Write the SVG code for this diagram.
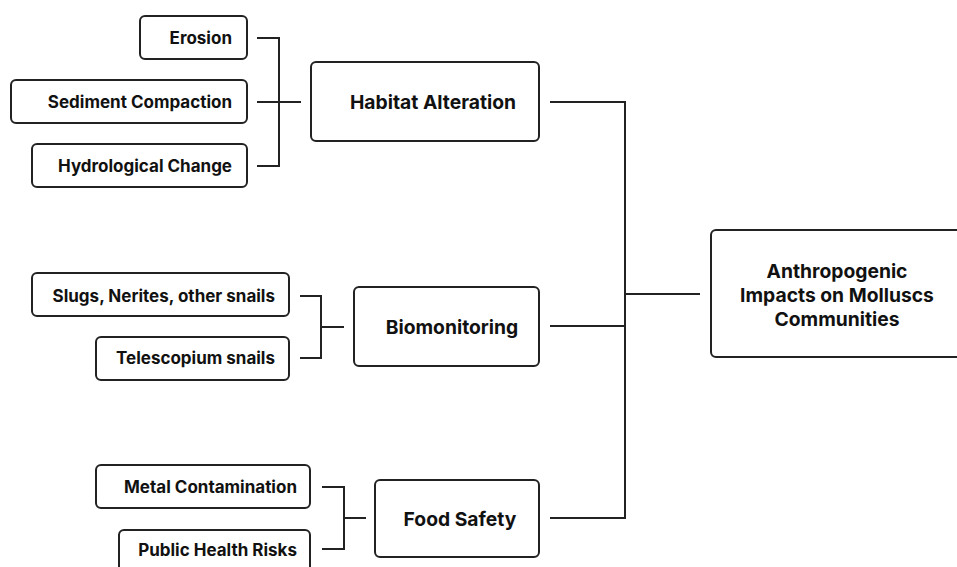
<svg xmlns="http://www.w3.org/2000/svg" width="957" height="567" viewBox="0 0 957 567">
<style>
.box{fill:#fff;stroke:#222;stroke-width:2}
.t{font-family:Inter,Roboto,"Liberation Sans",sans-serif;font-weight:bold;font-size:17px;fill:#111;dominant-baseline:central}
.big{font-size:19.3px}
.r{text-anchor:end}
.m{text-anchor:middle}
.c{fill:none;stroke:#222;stroke-width:2}
</style>
<rect width="957" height="567" fill="#fff"/>
<g id="connectors">
<path class="c" d="M257 38H279V166H257M257 102H301"/>
<path class="c" d="M550 102H625V518H550M550 326H625M625 294H700"/>
<path class="c" d="M300 296H321V358H300M321 327H344"/>
<path class="c" d="M322 487H344V549H322M344 518H366"/>
</g>
<g id="erosion"><rect class="box" x="140" y="16" width="107" height="43" rx="5"/><text class="t r" x="232" y="38">Erosion</text></g>
<g id="sediment"><rect class="box" x="11" y="80" width="236" height="43" rx="5"/><text class="t r" x="232" y="102">Sediment Compaction</text></g>
<g id="hydro"><rect class="box" x="32" y="144" width="215" height="43" rx="5"/><text class="t r" x="232" y="166">Hydrological Change</text></g>
<g id="habitat"><rect class="box" x="311" y="62" width="228" height="79" rx="5"/><text class="t big m" x="433" y="102">Habitat Alteration</text></g>
<g id="slugs"><rect class="box" x="32" y="273" width="257" height="43" rx="5"/><text class="t r" x="275" y="296">Slugs, Nerites, other snails</text></g>
<g id="telescopium"><rect class="box" x="96" y="337" width="193" height="43" rx="5"/><text class="t r" x="275" y="358">Telescopium snails</text></g>
<g id="biomonitoring"><rect class="box" x="354" y="287" width="185" height="79" rx="5"/><text class="t big m" x="452" y="327">Biomonitoring</text></g>
<g id="metal"><rect class="box" x="96" y="465" width="214" height="43" rx="5"/><text class="t r" x="297" y="487">Metal Contamination</text></g>
<g id="health"><rect class="box" x="119" y="530" width="191" height="43" rx="5"/><text class="t r" x="297" y="550">Public Health Risks</text></g>
<g id="food"><rect class="box" x="375" y="480" width="164" height="77" rx="5"/><text class="t big m" x="460" y="519">Food Safety</text></g>
<g id="main"><rect class="box" x="711" y="230" width="260" height="127" rx="5"/><text class="t big m" x="837" y="271">Anthropogenic</text><text class="t big m" x="837" y="295">Impacts on Molluscs</text><text class="t big m" x="837" y="319">Communities</text></g>
</svg>
